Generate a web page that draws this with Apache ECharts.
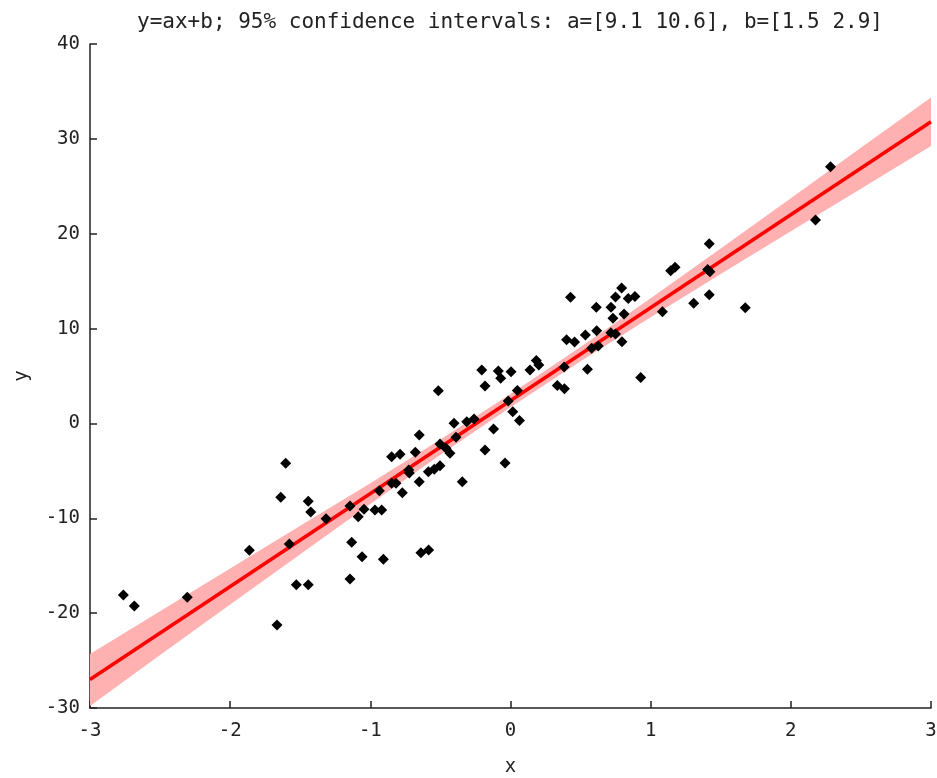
<!DOCTYPE html>
<html>
<head>
<meta charset="utf-8">
<script src="https://cdn.jsdelivr.net/npm/echarts@6/dist/echarts.min.js"></script>
<style>
html,body{margin:0;padding:0;background:#fff;}
#chart{width:937px;height:778px;}
</style>
</head>
<body>
<div id="chart"></div>
<script>
// ---- data ----
const titleText = 'y=ax+b; 95% confidence intervals: a=[9.1 10.6], b=[1.5 2.9]';

const pointsX = [-2.762,-2.684,-2.306,-1.863,-1.666,-1.639,-1.604,-1.578,-1.528,-1.443,
  -1.443,-1.425,-1.316,-1.145,-1.145,-1.133,-1.086,-1.059,-1.045,-0.967,
  -0.919,-0.936,-0.907,-0.848,-0.817,-0.772,-0.848,-0.788,-0.679,-0.651,
  -0.726,-0.722,-0.651,-0.639,-0.584,-0.586,-0.544,-0.503,-0.515,-0.503,
  -0.460,-0.432,-0.403,-0.389,-0.344,-0.312,-0.260,-0.205,-0.182,-0.182,
  -0.121,-0.087,-0.070,-0.039,0.004,-0.016,0.016,0.064,0.049,0.139,
  0.184,0.202,0.334,0.385,0.383,0.400,0.457,0.428,0.549,0.534,
  0.579,0.626,0.612,0.615,0.717,0.749,0.793,0.731,0.716,0.749,
  0.795,0.810,0.840,0.888,0.929,1.084,1.143,1.174,1.307,1.418,
  1.407,1.423,1.418,1.675,2.176,2.283];
const pointsY = [-18.09,-19.25,-18.33,-13.38,-21.25,-7.79,-4.21,-12.71,-17.00,-17.00,
  -8.21,-9.34,-10.05,-8.71,-16.40,-12.53,-9.84,-14.05,-9.06,-9.13,
  -9.13,-7.09,-14.33,-6.31,-6.31,-7.31,-3.51,-3.26,-3.05,-1.22,
  -4.91,-5.23,-6.15,-13.63,-13.35,-5.09,-4.84,-4.46,3.45,-2.17,
  -2.62,-3.15,0.01,-1.47,-6.15,0.18,0.46,5.63,3.94,-2.80,
  -0.59,5.52,4.75,-4.17,5.45,2.36,1.23,0.31,3.47,5.63,
  6.63,6.16,4.00,3.65,5.95,8.82,8.58,13.29,5.71,9.32,
  7.92,8.16,12.24,9.76,12.24,13.32,14.27,11.08,9.55,9.42,
  8.61,11.53,13.17,13.38,4.84,11.78,16.10,16.46,12.66,18.94,
  16.22,15.99,13.57,12.20,21.44,27.05];

const fitX = [-3, 3];
const fitY = [-27.0, 31.8];

const bandX    = [-3, -2.5, -2, -1.5, -1, -0.5, 0, 0.5, 1, 1.5, 2, 2.5, 3];
const bandLow  = [-29.8, -24.4, -19.1, -13.8, -8.5, -3.3, 1.7, 6.55, 11.2, 15.75, 20.25, 24.75, 29.25];
const bandHigh = [-24.3, -19.8, -15.3, -10.8, -6.3, -1.7, 3.1, 8.05, 13.2, 18.45, 23.75, 29.05, 34.35];

// ---- build chart ----
const FONT = 'DejaVu Sans Mono';
const chart = echarts.init(document.getElementById('chart'), null, {renderer: 'canvas'});

const scatterData = pointsX.map((x, i) => [x, pointsY[i]]);
const fitData = fitX.map((x, i) => [x, fitY[i]]);

const axisCommon = {
  axisLine: {show: true, onZero: false, lineStyle: {color: '#222', width: 1.5}},
  axisTick: {show: true, inside: true, length: 7, lineStyle: {color: '#222', width: 1.5}},
  splitLine: {show: false},
  axisLabel: {color: '#222', fontFamily: FONT, fontSize: 19},
  nameTextStyle: {color: '#222', fontFamily: FONT, fontSize: 19}
};

function renderBand(params, api) {
  const pts = [];
  for (let i = 0; i < bandX.length; i++) pts.push(api.coord([bandX[i], bandHigh[i]]));
  for (let i = bandX.length - 1; i >= 0; i--) pts.push(api.coord([bandX[i], bandLow[i]]));
  return {
    type: 'polygon',
    shape: {points: pts},
    style: {fill: '#ffb0b0', stroke: null},
    clipPath: {type: 'rect', shape: {
      x: params.coordSys.x, y: params.coordSys.y,
      width: params.coordSys.width, height: params.coordSys.height}}
  };
}

chart.setOption({
  animation: false,
  backgroundColor: '#fff',
  title: {
    text: titleText,
    left: 505, top: 7, textAlign: 'center',
    textStyle: {fontFamily: FONT, fontSize: 21, fontWeight: 'normal', color: '#222'}
  },
  grid: {left: 90, right: 6, top: 44, bottom: 70, containLabel: false, outerBoundsMode: 'none'},
  xAxis: Object.assign({}, axisCommon, {
    type: 'value', min: -3, max: 3, interval: 1,
    name: 'x', nameLocation: 'middle', nameGap: 50,
    axisLabel: Object.assign({}, axisCommon.axisLabel, {margin: 14})
  }),
  yAxis: Object.assign({}, axisCommon, {
    type: 'value', min: -30, max: 40, interval: 10,
    name: 'y', nameLocation: 'middle', nameGap: 58, nameRotate: 90,
    axisLabel: Object.assign({}, axisCommon.axisLabel, {margin: 10})
  }),
  series: [
    {
      type: 'custom', renderItem: renderBand, data: [[0, 0]],
      silent: true, z: 1, encode: {x: 0, y: 1}
    },
    {
      type: 'line', data: fitData, symbol: 'none',
      lineStyle: {color: '#ff0000', width: 3.5}, z: 2
    },
    {
      type: 'scatter', data: scatterData, symbol: 'diamond', symbolSize: 11,
      itemStyle: {color: '#000', opacity: 1}, z: 3
    }
  ]
});
</script>
</body>
</html>
